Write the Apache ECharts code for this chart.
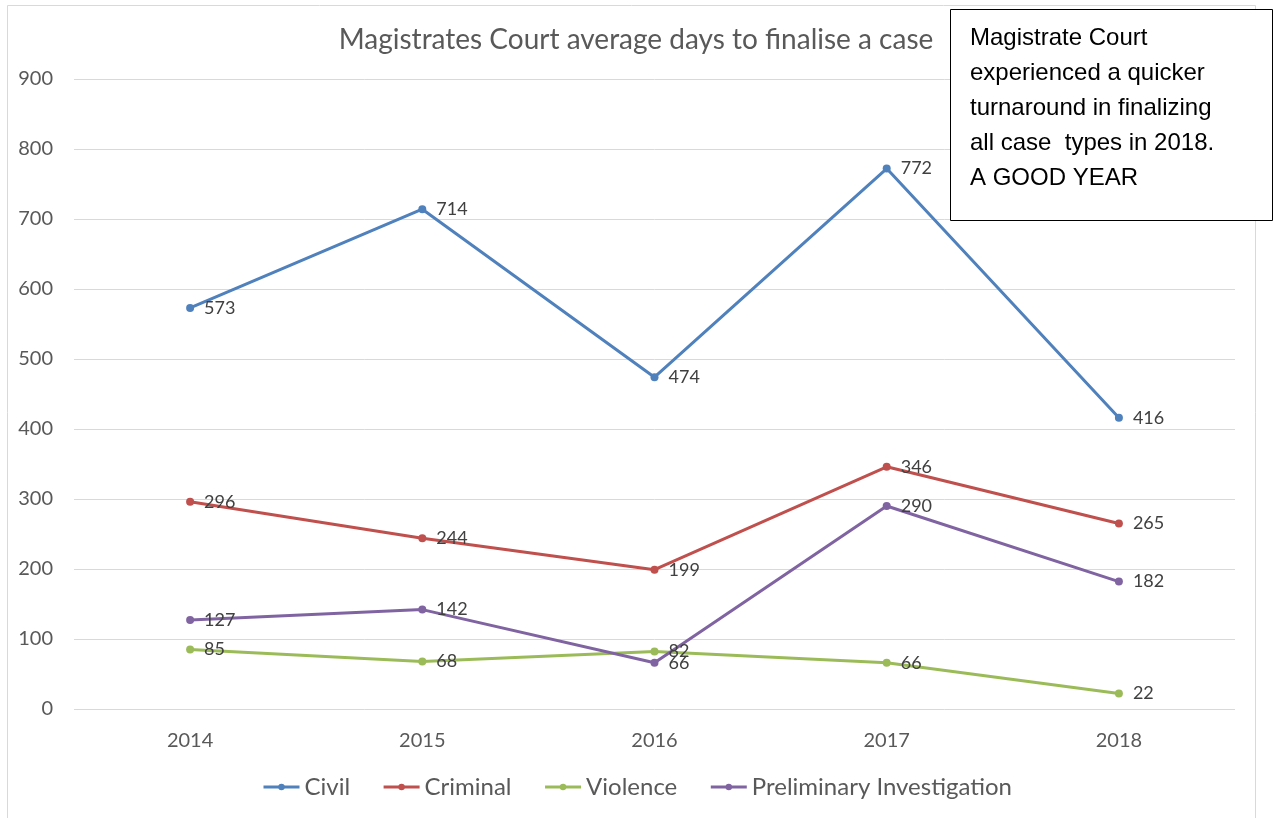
<!DOCTYPE html>
<html>
<head>
    <meta charset="utf-8">
    <title>Magistrates Court average days to finalise a case</title>
    <script src="https://cdn.jsdelivr.net/npm/echarts@6/dist/echarts.min.js"></script>
    <style>
        html, body { margin: 0; padding: 0; background: #fff; }
        #chart { width: 1274px; height: 818px; }
    </style>
</head>
<body>
    <div id="chart"></div>
    <script>
        // data
        const years = ['2014', '2015', '2016', '2017', '2018'];
        const civil = [573, 714, 474, 772, 416];
        const criminal = [296, 244, 199, 346, 265];
        const violence = [85, 68, 82, 66, 22];
        const preliminary = [127, 142, 66, 290, 182];

        const font = 'Lato, "Open Sans", sans-serif';

        function line(name, data, color) {
            return {
                name: name,
                type: 'line',
                data: data,
                symbol: 'circle',
                symbolSize: 8,
                lineStyle: { width: 3, color: color },
                itemStyle: { color: color },
                label: {
                    show: true,
                    position: 'right',
                    distance: 10,
                    color: '#404040',
                    fontSize: 18,
                    fontFamily: font
                }
            };
        }

        const chart = echarts.init(document.getElementById('chart'));
        chart.setOption({
            animation: false,
            title: {
                text: 'Magistrates Court average days to finalise a case',
                left: 631,
                textAlign: 'center',
                top: 21,
                textStyle: { color: '#595959', fontSize: 28, fontWeight: 'normal', fontFamily: font }
            },
            grid: { left: 74, right: 39, top: 79, bottom: 109, containLabel: false },
            legend: {
                top: 770,
                left: 'center',
                itemWidth: 36,
                itemHeight: 8,
                itemGap: 32,
                lineStyle: { width: 3 },
                textStyle: { color: '#595959', fontSize: 24, fontFamily: font },
                data: ['Civil', 'Criminal', 'Violence', 'Preliminary Investigation']
            },
            xAxis: {
                type: 'category',
                data: years,
                axisLine: { show: false },
                axisTick: { show: false },
                axisLabel: { color: '#595959', fontSize: 20, fontFamily: font, margin: 22 }
            },
            yAxis: {
                type: 'value',
                min: 0,
                max: 900,
                interval: 100,
                axisLine: { show: false },
                axisTick: { show: false },
                axisLabel: { color: '#595959', fontSize: 20, fontFamily: font, margin: 21 },
                splitLine: { lineStyle: { color: '#d9d9d9', width: 1 } }
            },
            series: [
                line('Civil', civil, '#4f81bd'),
                line('Criminal', criminal, '#c0504d'),
                line('Violence', violence, '#9bbb59'),
                line('Preliminary Investigation', preliminary, '#8064a2')
            ],
            graphic: [
                {
                    type: 'rect',
                    silent: true,
                    shape: { x: 7.5, y: 5.5, width: 1248, height: 830 },
                    style: { fill: null, stroke: '#d9d9d9', lineWidth: 1 },
                    z: 0
                },
                {
                    type: 'rect',
                    shape: { x: 950.5, y: 9.5, width: 322, height: 211 },
                    style: { fill: '#fff', stroke: '#000', lineWidth: 1 },
                    z: 100
                },
                {
                    type: 'text',
                    left: 970,
                    top: 21,
                    z: 101,
                    style: {
                        text: 'Magistrate Court\nexperienced a quicker\nturnaround in finalizing\nall case  types in 2018.\nA GOOD YEAR',
                        fill: '#000',
                        fontSize: 24,
                        lineHeight: 35,
                        fontFamily: '"Liberation Sans", Arial, sans-serif'
                    }
                }
            ]
        });
    </script>
</body>
</html>
